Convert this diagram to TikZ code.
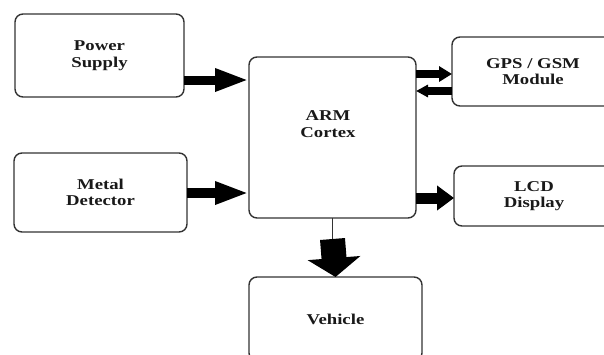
\documentclass[tikz,border=0pt]{standalone}
\usepackage{fontspec}
\setmainfont{Liberation Serif}[FakeStretch=1.25]
\usetikzlibrary{arrows.meta}
\begin{document}
\begin{tikzpicture}[x=1pt,y=-1pt,
  box/.style={draw=black!80, line width=1.4pt, rounded corners=8pt, inner sep=0pt, outer sep=0pt},
  lbl/.style={font=\fontsize{15}{16.5}\selectfont\bfseries, text=black!90, align=center},
  fat/.style n args={3}{line width=#1, draw=black, -{Triangle[length=#2, width=#3]}}]
\useasboundingbox (0,0) rectangle (604,354);
\clip (0,0) rectangle (604,354);
\fill[white] (0,0) rectangle (604,354);
% boxes
\node[box, lbl, minimum width=169pt, minimum height=83pt] (power) at (99.5,55.5) {Power\\Supply};
\node[box, lbl, minimum width=173pt, minimum height=79pt] (metal) at (100.5,192.5) {Metal\\Detector};
\node[box, minimum width=167pt, minimum height=161pt] (arm) at (332.5,137.5) {};
\node[lbl] (armtxt) at (328,124) {ARM\\Cortex};
\node[box, lbl, minimum width=162pt, minimum height=69pt] (gps) at (533,71.5) {GPS / GSM\\Module};
\node[box, lbl, minimum width=160pt, minimum height=60pt] (lcd) at (534,196) {LCD\\Display};
\node[box, lbl, minimum width=173pt, minimum height=84pt] (veh) at (335.5,319) {Vehicle};
% connector heights
\coordinate (yp) at (0,80);
\coordinate (ym) at (0,193);
\coordinate (yg1) at (0,74);
\coordinate (yg2) at (0,91);
\coordinate (yl) at (0,198);
\coordinate (vmid) at (332.5,239);
% arrows
\draw[fat={9pt}{34pt}{21pt}] (power.east |- yp) -- (arm.west |- yp);
\draw[fat={10pt}{34pt}{21pt}] (metal.east |- ym) -- (arm.west |- ym);
\draw[fat={8pt}{13pt}{15pt}] (arm.east |- yg1) -- (gps.west |- yg1);
\draw[fat={8pt}{12pt}{12pt}] (gps.west |- yg2) -- (arm.east |- yg2);
\draw[fat={11pt}{17pt}{24pt}] (arm.east |- yl) -- (lcd.west |- yl);
\draw[line width=1.6pt, black!80] (arm.south) -- (vmid);
\draw[fat={25pt}{19pt}{52pt}] (vmid) -- (veh.north);
\end{tikzpicture}
\end{document}
